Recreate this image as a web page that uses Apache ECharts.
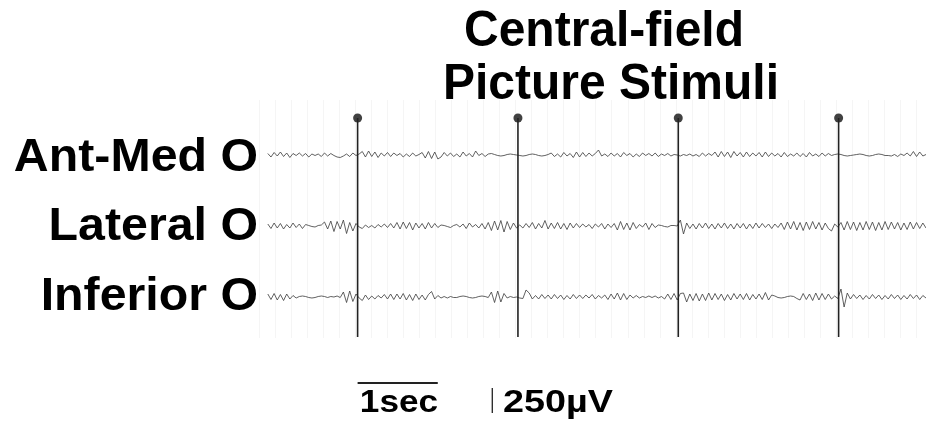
<!DOCTYPE html>
<html><head><meta charset="utf-8">
<script src="https://cdn.jsdelivr.net/npm/echarts@6/dist/echarts.min.js"></script>
<style>html,body{margin:0;padding:0;background:#fff}#c{width:926px;height:428px}</style>
</head><body><div id="c"></div><script>
// ---- data (µV, sampled evenly from sampleStart to sampleEnd seconds) ----
const channelNames = ['Ant-Med O', 'Lateral O', 'Inferior O'];
const titleLines = ['Central-field', 'Picture Stimuli'];
const antMed = [
 15,-20,25,-10,30,-15,20,-25,15,-5,
 20,-10,15,-20,10,-5,10,-15,20,-10,
 15,-5,-20,-25,-10,10,-15,20,-5,10,
 35,-20,40,-15,30,-25,20,-10,25,-15,
 20,-5,15,-20,10,-15,20,-10,5,25,
 -30,35,-35,30,-40,-20,25,-10,20,-15,
 10,-20,30,-10,15,-20,40,-5,15,-15,
 10,15,5,-5,-10,-5,5,10,5,0,
 -5,-10,-5,5,10,5,-5,-10,-5,5,
 20,-15,10,-20,25,-10,15,-25,30,-20,
 25,-15,20,-10,15,50,-10,10,-15,20,
 -10,15,-20,25,-5,15,-20,10,-15,20,
 -5,15,-10,20,-15,10,-5,15,-10,5,
 0,-10,5,-5,10,-10,5,-15,20,-10,
 15,-5,30,-20,35,-15,30,-25,35,-10,
 25,-20,30,-15,20,-10,25,-20,30,-15,
 20,-10,15,-20,25,-15,10,-10,20,-15,
 15,-20,25,-10,10,-15,20,-10,15,-5,
 5,10,5,-5,-10,-5,0,5,10,5,
 -5,-10,-5,5,10,5,-5,-5,-10,5,
 -15,10,-5,20,-10,35,-15,30,-10,5
];
const lateral = [
 20,-25,30,-20,25,-30,15,-20,30,-15,
 20,-25,15,5,-5,-10,5,10,40,-30,
 50,-55,45,-30,60,-75,35,-50,25,-10,
 -25,10,-15,5,-20,15,-10,20,-15,25,
 -20,35,-30,40,-25,35,-40,30,-20,25,
 -30,35,-20,25,-15,10,5,-5,-15,5,
 15,-10,20,-25,30,-10,15,-20,25,-30,
 35,-45,50,-40,55,-60,45,-35,30,-20,
 10,-20,25,-15,35,-30,25,-20,55,-30,
 30,-25,35,-30,25,-35,30,-20,25,-15,
 20,-10,15,-25,20,-10,25,-30,20,-15,
 25,-40,45,-35,30,-40,35,-25,15,-10,
 30,-35,25,-15,10,5,-5,-10,5,5,
 0,60,-80,30,-25,20,-30,25,-20,30,
 -25,20,-30,25,-20,30,-25,20,-30,25,
 -20,25,-30,20,-25,30,-20,25,-15,20,
 -25,20,-15,30,-35,40,-30,45,-40,35,
 -45,40,-35,45,-30,35,-40,30,-25,-50,
 20,-10,35,-40,45,-35,40,-45,35,-40,
 45,-35,40,-45,35,-40,45,-35,40,-30,
 35,-40,30,-35,40,-30,35,-25,30,-20
];
const inferior = [
 30,-25,35,-30,25,-35,30,-20,15,-10,
 5,10,5,-5,-10,-5,5,10,5,-5,
 5,0,10,-5,50,-55,60,-45,30,-10,
 -35,20,-25,10,-20,15,-10,25,-20,30,
 -25,30,-20,35,-30,25,-35,30,-25,20,
 -30,25,55,-20,15,-10,5,-10,5,-5,
 -5,5,10,5,-5,-10,-5,5,10,5,
 -5,50,-55,60,-50,35,-10,5,-5,0,
 -10,-15,70,40,-20,15,-20,25,-15,20,
 -20,25,-15,20,-25,15,-20,25,-15,20,
 -15,20,-10,25,-20,15,-10,20,-25,30,
 -20,40,-30,35,-25,20,-10,15,-10,5,
 -5,10,-5,10,-10,5,-20,30,-25,35,
 -30,35,40,-50,30,-35,35,-40,30,-35,
 40,-30,35,-25,30,-35,25,-30,35,-20,
 30,-25,35,-30,25,-20,30,-25,45,-30,
 20,10,-5,-10,-5,5,10,5,-15,-30,
 35,-25,30,-35,40,-30,35,-25,30,-20,
 10,-15,80,-100,40,-20,25,-15,20,-25,
 15,-20,25,-15,20,-25,15,-20,25,-15,
 20,-25,15,-20,25,-15,20,-25,15,-10
];
const sampleStart = -0.09;
const sampleEnd = 8.12;
const stimTimes = [1.03, 3.03, 5.03, 7.03];
const timeBar = [1.03, 2.03];
const timeBarLabel = '1sec';
const voltBarTime = 2.71;
const voltBar = 250;
const voltBarLabel = '250µV';

// ---- layout ----
const offsets = [0, -710, -1420];
const stimTop = 370, stimBottom = -1820;
const FONT = '"Liberation Sans", Arial, Helvetica, sans-serif';

function traceData(vals, off) {
  const n = vals.length, dt = (sampleEnd - sampleStart) / (n - 1);
  return vals.map((v, i) => [sampleStart + i * dt, v + off]);
}
const traces = [antMed, lateral, inferior];

const series = [];
traces.forEach((vals, k) => {
  series.push({
    type: 'line', xAxisIndex: 0, yAxisIndex: 0, data: traceData(vals, offsets[k]),
    symbol: 'none', silent: true,
    lineStyle: { color: '#444', width: 0.85 }
  });
});
stimTimes.forEach(t => {
  series.push({
    type: 'line', xAxisIndex: 0, yAxisIndex: 0, data: [[t, stimTop], [t, stimBottom]],
    symbol: 'none', silent: true, lineStyle: { color: '#222', width: 1.6 }
  });
});
series.push({
  type: 'scatter', xAxisIndex: 0, yAxisIndex: 0, data: stimTimes.map(t => [t, stimTop]),
  symbol: 'circle', symbolSize: 9, itemStyle: { color: '#111' }, silent: true
});
series.push({
  type: 'line', xAxisIndex: 1, yAxisIndex: 1, data: [[timeBar[0], 0], [timeBar[1], 0]],
  symbol: 'none', silent: true, lineStyle: { color: '#222', width: 2 }
});
series.push({
  type: 'line', xAxisIndex: 1, yAxisIndex: 1, data: [[voltBarTime, -50], [voltBarTime, -50 - voltBar]],
  symbol: 'none', silent: true, lineStyle: { color: '#222', width: 1.3 }
});

const hiddenAxis = { axisLine: { show: false }, axisTick: { show: false }, axisLabel: { show: false } };
const option = {
  animation: false,
  backgroundColor: '#fff',
  grid: [
    { left: 259, right: 0, top: 100, height: 238 },
    { left: 259, right: 0, top: 370, height: 50 }
  ],
  xAxis: [
    Object.assign({ type: 'value', gridIndex: 0, min: -0.2, max: 8.12, interval: 0.2,
      splitLine: { show: true, lineStyle: { color: '#f5f5f5', width: 1 } } }, hiddenAxis),
    Object.assign({ type: 'value', gridIndex: 1, min: -0.2, max: 8.12, splitLine: { show: false } }, hiddenAxis)
  ],
  yAxis: [
    Object.assign({ type: 'value', gridIndex: 0, min: -1830, max: 550, splitLine: { show: false } }, hiddenAxis),
    Object.assign({ type: 'value', gridIndex: 1, min: -370, max: 130, splitLine: { show: false } }, hiddenAxis)
  ],
  series: series,
  graphic: [
    { type: 'text', x: 604, y: 32, scaleY: 1.06, style: { text: titleLines[0], font: 'bold 48px ' + FONT, fill: '#000', textAlign: 'center', textVerticalAlign: 'middle' } },
    { type: 'text', x: 611, y: 85, scaleY: 1.06, style: { text: titleLines[1], font: 'bold 48px ' + FONT, fill: '#000', textAlign: 'center', textVerticalAlign: 'middle' } },
    ...channelNames.map((nm, k) => ({
      type: 'text', x: 258, y: [158, 227, 297][k], scaleX: 1.05,
      style: { text: nm, font: 'bold 46px ' + FONT, fill: '#000', textAlign: 'right', textVerticalAlign: 'middle' }
    })),
    { type: 'text', x: 399, y: 403, scaleX: 1.1, style: { text: timeBarLabel, font: 'bold 32px ' + FONT, fill: '#000', textAlign: 'center', textVerticalAlign: 'middle' } },
    { type: 'text', x: 503, y: 403, scaleX: 1.18, style: { text: voltBarLabel, font: 'bold 32px ' + FONT, fill: '#000', textAlign: 'left', textVerticalAlign: 'middle' } }
  ]
};
const chart = echarts.init(document.getElementById('c'), null, { renderer: 'canvas' });
chart.setOption(option);
</script></body></html>
